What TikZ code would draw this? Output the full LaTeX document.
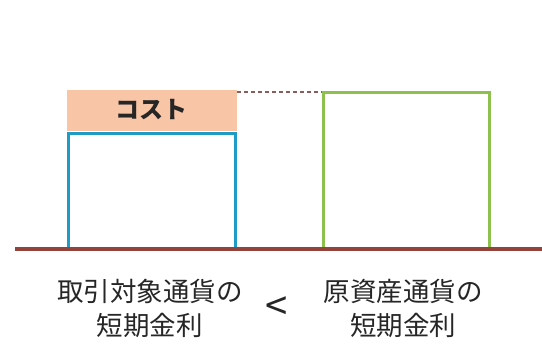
\documentclass[tikz,border=0pt]{standalone}
\usepackage{fontspec}
\setmainfont{Noto Sans CJK JP}
\begin{document}
\begin{tikzpicture}[x=1pt,y=-1pt,
  lbl/.style={font=\fontsize{26.5}{34}\selectfont, text=black!85, align=center, inner sep=0pt},
]
\definecolor{baseC}{HTML}{94433A}
\definecolor{blueC}{HTML}{1E9BC6}
\definecolor{greenC}{HTML}{8DC04C}
\definecolor{peachC}{HTML}{F9C5A7}
\definecolor{dashC}{HTML}{8E5B5B}
\useasboundingbox (0,0) rectangle (542,345);
% cost box
\fill[peachC] (66.5,90.5) rectangle (236.5,131.5);
\node[font=\bfseries\fontsize{24}{24}\selectfont, text=black!85] (cost) at (151.5,110) {コスト};
% blue box
\draw[blueC, line width=3pt] (68,249) -- (68,134) -- (235,134) -- (235,249);
% green box
\draw[greenC, line width=3pt] (323,249) -- (323,93) -- (489,93) -- (489,249);
% dashed line
\coordinate (d1) at (237,92);
\coordinate (d2) at (321.5,92);
\draw[dashC, line width=1.5pt, dash pattern=on 4pt off 3pt] (d1) -- (d2);
% baseline
\coordinate (b1) at (15,249);
\coordinate (b2) at (542,249);
\draw[baseC, line width=4pt] (b1) -- (b2);
% labels
\node[lbl] (left) at (150,308) {取引対象通貨の\\短期金利};
\node[lbl] (right) at (403,308) {原資産通貨の\\短期金利};
\node[lbl, font=\fontsize{40}{40}\selectfont] (lt) at (277,309) {<};
\end{tikzpicture}
\end{document}
